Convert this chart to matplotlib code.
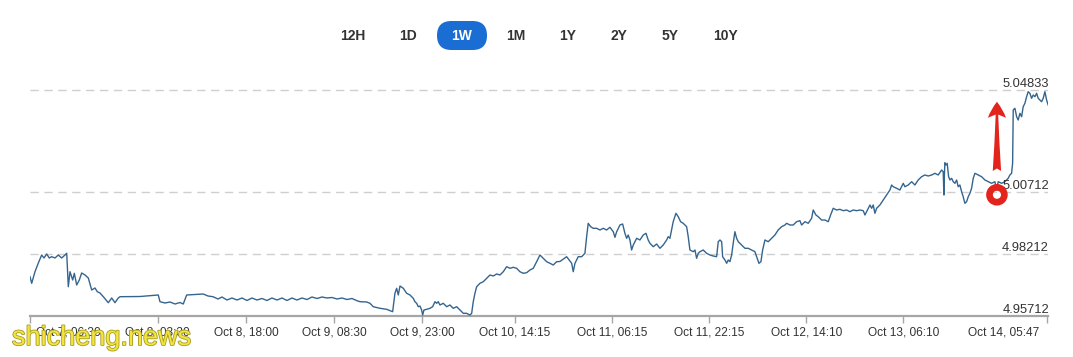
import matplotlib
matplotlib.use("Agg")
import matplotlib.pyplot as plt
import matplotlib.transforms as mtransforms
import matplotlib.patheffects as pe
from matplotlib.patches import FancyBboxPatch
import pandas as pd

# ---------------- data ----------------
start_time = "2023-10-07 06:30"
hours = [0.0, 0.28, 0.82, 1.37, 1.92, 2.30, 2.75, 3.17, 3.57, 4.11, 4.65, 5.21, 5.76, 6.04,
         6.30, 6.58, 7.02, 7.29, 7.68, 8.11, 8.50, 9.05, 9.59, 10.15, 10.69, 11.07, 11.51,
         12.06, 12.50, 12.88, 13.44, 13.98, 14.52, 14.80, 18.09, 21.10, 21.38, 22.20, 23.03,
         23.85, 24.67, 25.21, 25.77, 27.14, 28.50, 29.28, 30.10, 30.92, 31.58, 32.40, 33.22,
         34.05, 34.87, 35.69, 36.51, 37.34, 38.16, 38.98, 39.80, 40.63, 41.45, 42.27, 43.09,
         43.91, 44.74, 45.56, 46.38, 47.20, 48.03, 48.85, 49.67, 50.49, 51.32, 52.14, 52.96,
         53.78, 54.28, 55.38, 55.92, 56.46, 57.57, 58.67, 59.65, 60.03, 60.31, 60.58, 60.86,
         61.40, 61.96, 62.50, 63.04, 63.32, 63.60, 63.87, 64.14, 64.42, 64.59, 64.80, 65.25,
         65.79, 66.23, 66.61, 66.89, 67.15, 67.43, 67.98, 68.54, 69.08, 69.62, 70.18, 70.72,
         71.27, 71.82, 72.37, 72.65, 72.91, 73.19, 73.47, 74.01, 74.56, 75.12, 75.66, 76.20,
         76.76, 77.30, 77.85, 78.40, 78.95, 79.49, 80.05, 80.59, 81.13, 81.69, 82.24, 82.78,
         83.34, 83.88, 84.42, 84.98, 85.53, 86.07, 86.63, 87.17, 88.27, 89.10, 89.36, 89.64,
         90.18, 90.74, 91.28, 91.56, 91.82, 92.22, 92.65, 93.21, 93.75, 94.29, 94.85, 95.39,
         95.94, 96.22, 96.50, 97.04, 97.48, 97.86, 98.14, 98.40, 98.68, 98.96, 99.23, 99.79,
         100.33, 100.87, 101.32, 101.69, 101.97, 102.52, 103.07, 103.62, 104.16, 104.72,
         104.98, 105.26, 105.80, 106.25, 106.63, 107.02, 107.45, 108.01, 108.27, 108.55,
         109.10, 109.38, 109.65, 109.92, 110.20, 110.74, 111.30, 111.84, 112.39, 112.94,
         113.21, 113.49, 113.77, 113.93, 114.31, 114.59, 114.85, 115.13, 115.41, 115.67,
         115.95, 116.23, 116.50, 117.06, 117.60, 118.14, 118.70, 119.24, 119.52, 119.90,
         120.23, 120.51, 120.89, 121.43, 121.99, 122.53, 123.07, 123.63, 124.18, 124.46,
         125.00, 125.54, 126.10, 126.64, 126.92, 127.47, 128.01, 128.57, 128.83, 129.28,
         129.65, 130.21, 130.76, 131.30, 131.69, 132.12, 132.68, 133.22, 133.77, 134.33,
         134.87, 135.41, 135.97, 136.51, 137.06, 137.34, 137.88, 138.16, 138.44, 138.70,
         138.98, 139.26, 139.80, 140.35, 140.90, 141.45, 141.73, 141.99, 142.55, 143.09,
         143.64, 143.91, 144.46, 145.02, 145.56, 146.10, 146.66, 147.20, 147.75, 148.31,
         148.85, 149.39, 149.95, 150.21, 150.33, 150.41, 150.49, 150.66, 150.87, 151.10,
         151.32, 151.60, 151.86, 152.14, 152.42, 152.68, 152.96, 153.24, 153.50, 153.78,
         154.06, 154.33, 154.61, 154.88, 155.15, 155.43, 155.97, 156.53, 157.07, 157.62,
         158.17, 158.72, 158.99, 159.26, 159.82, 160.36, 160.90, 161.18, 161.46, 161.63,
         161.73, 162.01, 162.29, 162.55, 162.83, 163.11, 163.37, 163.65, 163.93, 164.19,
         164.47, 164.75, 165.02, 165.30, 165.58, 165.84, 166.12, 166.40, 166.66, 166.94,
         167.22, 167.48]
rate = [4.97297, 4.97031, 4.97498, 4.97849, 4.98172, 4.98051, 4.98212, 4.98051, 4.98103,
        4.98051, 4.98172, 4.98051, 4.98172, 4.98240, 4.96893, 4.97498, 4.97164, 4.97434,
        4.96962, 4.97164, 4.97446, 4.97365, 4.97244, 4.96760, 4.96841, 4.96692, 4.96639,
        4.96490, 4.96357, 4.96248, 4.96438, 4.96248, 4.96438, 4.96490, 4.96498, 4.96559,
        4.96289, 4.96236, 4.96277, 4.96196, 4.96256, 4.96196, 4.96559, 4.96579, 4.96599,
        4.96518, 4.96490, 4.96398, 4.96478, 4.96357, 4.96438, 4.96357, 4.96438, 4.96337,
        4.96438, 4.96357, 4.96418, 4.96337, 4.96438, 4.96357, 4.96438, 4.96337, 4.96438,
        4.96357, 4.96438, 4.96377, 4.96478, 4.96418, 4.96478, 4.96438, 4.96458, 4.96398,
        4.96438, 4.96377, 4.96418, 4.96329, 4.96289, 4.96277, 4.96224, 4.96087, 4.96022,
        4.95982, 4.95885, 4.96627, 4.96829, 4.96559, 4.96922, 4.96829, 4.96627, 4.96559,
        4.96426, 4.96289, 4.96224, 4.96087, 4.96115, 4.95954, 4.95752, 4.95954, 4.95982,
        4.96022, 4.96087, 4.96289, 4.96224, 4.96289, 4.96156, 4.96224, 4.96087, 4.96156,
        4.96022, 4.96087, 4.95954, 4.95821, 4.95821, 4.95752, 4.95821, 4.96289, 4.96627,
        4.96893, 4.97031, 4.97095, 4.97232, 4.97365, 4.97325, 4.97406, 4.97365, 4.97498,
        4.97700, 4.97635, 4.97676, 4.97635, 4.97498, 4.97434, 4.97458, 4.97567, 4.97635,
        4.97902, 4.98172, 4.98039, 4.97902, 4.97837, 4.97768, 4.97902, 4.97910, 4.98103,
        4.97837, 4.97498, 4.97837, 4.98103, 4.98103, 4.98240, 4.98910, 4.99450, 4.99313,
        4.99248, 4.99248, 4.99180, 4.99248, 4.99180, 4.99289, 4.99111, 4.98885, 4.99111,
        4.99381, 4.99422, 4.99047, 4.98845, 4.98978, 4.98777, 4.98373, 4.98575, 4.98845,
        4.98777, 4.98978, 4.99047, 4.98777, 4.98643, 4.98506, 4.98615, 4.98442, 4.98575,
        4.98777, 4.98910, 4.98845, 4.99514, 4.99853, 4.99716, 4.99514, 4.99450, 4.99313,
        4.98910, 4.98373, 4.98305, 4.98373, 4.98039, 4.98240, 4.98305, 4.98373, 4.98240,
        4.98172, 4.98131, 4.98103, 4.98708, 4.98777, 4.98708, 4.98103, 4.97970, 4.97837,
        4.97970, 4.97902, 4.98172, 4.98643, 4.99111, 4.98845, 4.98708, 4.98575, 4.98442,
        4.98442, 4.98373, 4.98305, 4.98103, 4.97837, 4.97902, 4.98373, 4.98777, 4.98708,
        4.98845, 4.98978, 4.99180, 4.99313, 4.99381, 4.99450, 4.99381, 4.99381, 4.99514,
        4.99555, 4.99381, 4.99514, 4.99450, 4.99652, 4.99986, 4.99785, 4.99716, 4.99583,
        4.99583, 4.99514, 4.99785, 5.00055, 4.99986, 5.00014, 4.99958, 4.99986, 4.99918,
        4.99986, 4.99958, 4.99986, 4.99958, 4.99785, 5.00055, 5.00188, 5.00055, 5.00188,
        4.99853, 5.00055, 5.00188, 5.00389, 5.00591, 5.00793, 5.00994, 5.00926, 5.00861,
        5.00793, 5.01063, 5.00926, 5.00994, 5.01127, 5.00994, 5.01196, 5.01329, 5.01398,
        5.01357, 5.01398, 5.01466, 5.01398, 5.01599, 5.01531, 5.00591, 5.01398, 5.01893,
        5.01801, 5.01869, 5.01329, 5.01196, 5.01264, 5.01127, 5.01063, 5.01196, 5.00926,
        5.00994, 5.00724, 5.00522, 5.00256, 5.00321, 5.00522, 5.00660, 5.00861, 5.01264,
        5.01466, 5.01398, 5.01329, 5.01196, 5.01127, 5.01063, 5.01127, 5.00793, 5.01127,
        5.01063, 5.01127, 5.01264, 5.01398, 5.01466, 5.01869, 5.04018, 5.04087, 5.03748,
        5.03615, 5.03885, 5.03748, 5.04152, 5.04289, 5.04555, 5.04756, 5.04692, 5.04490,
        5.04623, 5.04555, 5.04692, 5.04490, 5.04422, 5.04353, 5.04490, 5.04756, 5.04422,
        5.04220]

y_levels = [4.95712, 4.98212, 5.00712, 5.04833]
tick_times = ["2023-10-07 06:30", "2023-10-08 03:30", "2023-10-08 18:00", "2023-10-09 08:30",
              "2023-10-09 23:00", "2023-10-10 14:15", "2023-10-11 06:15", "2023-10-11 22:15",
              "2023-10-12 14:10", "2023-10-13 06:10", "2023-10-14 05:47"]
tick_labels = ["Oct 7, 06:30", "Oct 8, 03:30", "Oct 8, 18:00", "Oct 9, 08:30", "Oct 9, 23:00",
               "Oct 10, 14:15", "Oct 11, 06:15", "Oct 11, 22:15", "Oct 12, 14:10",
               "Oct 13, 06:10", "Oct 14, 05:47"]
range_buttons = ["12H", "1D", "1W", "1M", "1Y", "2Y", "5Y", "10Y"]
active_button = "1W"

# annotation anchor (hours, value)
mark_hour = 159.05
mark_value = 5.00600
arrow_tail_value = 5.01560
arrow_tip_value = 5.04350

# ---------------- figure ----------------
plt.rcParams['font.family'] = ['Liberation Sans', 'DejaVu Sans']
W, H = 1073, 357
fig = plt.figure(figsize=(W / 100, H / 100), dpi=100)
fig.patch.set_facecolor("white")

left_px, right_px, top_px, bot_px = 30, 1048, 85, 316
ax = fig.add_axes([left_px / W, 1 - bot_px / H, (right_px - left_px) / W, (bot_px - top_px) / H])

t0 = pd.Timestamp(start_time)
times = t0 + pd.to_timedelta(hours, unit="h")
ax.plot(times, rate, color="#35658f", lw=1.0, solid_joinstyle="round", zorder=3)

ax.set_xlim(t0, t0 + pd.Timedelta(hours=167.45))
ax.set_ylim(y_levels[0], y_levels[0] + (bot_px - top_px) / 2480)

for s in ["top", "left", "right"]:
    ax.spines[s].set_visible(False)
ax.spines["bottom"].set_color("#a6a6a6")
ax.spines["bottom"].set_linewidth(1.6)
ax.set_yticks([])

for lv in y_levels[1:]:
    ax.axhline(lv, color="#cfcfcf", lw=1.0, ls=(0, (6, 4)), zorder=1)

for lv in y_levels:
    ax.text(1.001, lv, f"{lv:.5f}", transform=mtransforms.blended_transform_factory(ax.transAxes, ax.transData),
            ha="right", va="bottom", fontsize=9.3, color="#333333", zorder=4)

tt = pd.to_datetime(tick_times)
ax.set_xticks(tt)
ax.set_xticklabels(tick_labels, fontsize=8.6, color="#333333")
ax.tick_params(axis="x", length=5, width=1, color="#a6a6a6", pad=2.5, direction="out")
labels = ax.get_xticklabels()
labels[0].set_horizontalalignment("left")
labels[0].set_transform(labels[0].get_transform() + mtransforms.ScaledTranslation(6 / 100, 0, fig.dpi_scale_trans))
labels[-1].set_horizontalalignment("right")
labels[-1].set_transform(labels[-1].get_transform() + mtransforms.ScaledTranslation(-8 / 100, 0, fig.dpi_scale_trans))

# red annotation
mt = t0 + pd.Timedelta(hours=mark_hour)
ax.annotate("", xy=(mt, arrow_tip_value), xytext=(mt, arrow_tail_value),
            arrowprops=dict(arrowstyle="fancy,head_length=1.15,head_width=1.3,tail_width=0.6",
                            mutation_scale=10, color="#e3241c", lw=0, shrinkA=0, shrinkB=0),
            zorder=5)
ax.scatter([mt], [mark_value], s=115, facecolor="none", edgecolor="#e3241c", linewidths=4.8, zorder=5)

# overlay in pixel coordinates for the range selector
ov = fig.add_axes([0, 0, 1, 1], zorder=-1)
ov.set_xlim(0, W)
ov.set_ylim(H, 0)
ov.axis("off")
btn_x = [353, 408, 462, 516, 568, 619, 670, 725]
for lab, bx in zip(range_buttons, btn_x):
    if lab == active_button:
        ov.add_patch(FancyBboxPatch((bx - 25, 21), 50, 29, boxstyle="round,pad=0,rounding_size=14.5",
                                    facecolor="#1a6dd3", edgecolor="none"))
        col = "white"
    else:
        col = "#333333"
    ov.text(bx, 35.5, lab, ha="center", va="center", fontsize=10, fontweight="bold", color=col)

# watermark
fig.text(12 / W, 1 - 345 / H, "shicheng.news", ha="left", va="baseline", fontsize=19.5,
         color="#f3e53a", path_effects=[pe.withStroke(linewidth=1.2, foreground="#a59b2a")], zorder=10)

fig.savefig("out.png", dpi=100, facecolor="white")
